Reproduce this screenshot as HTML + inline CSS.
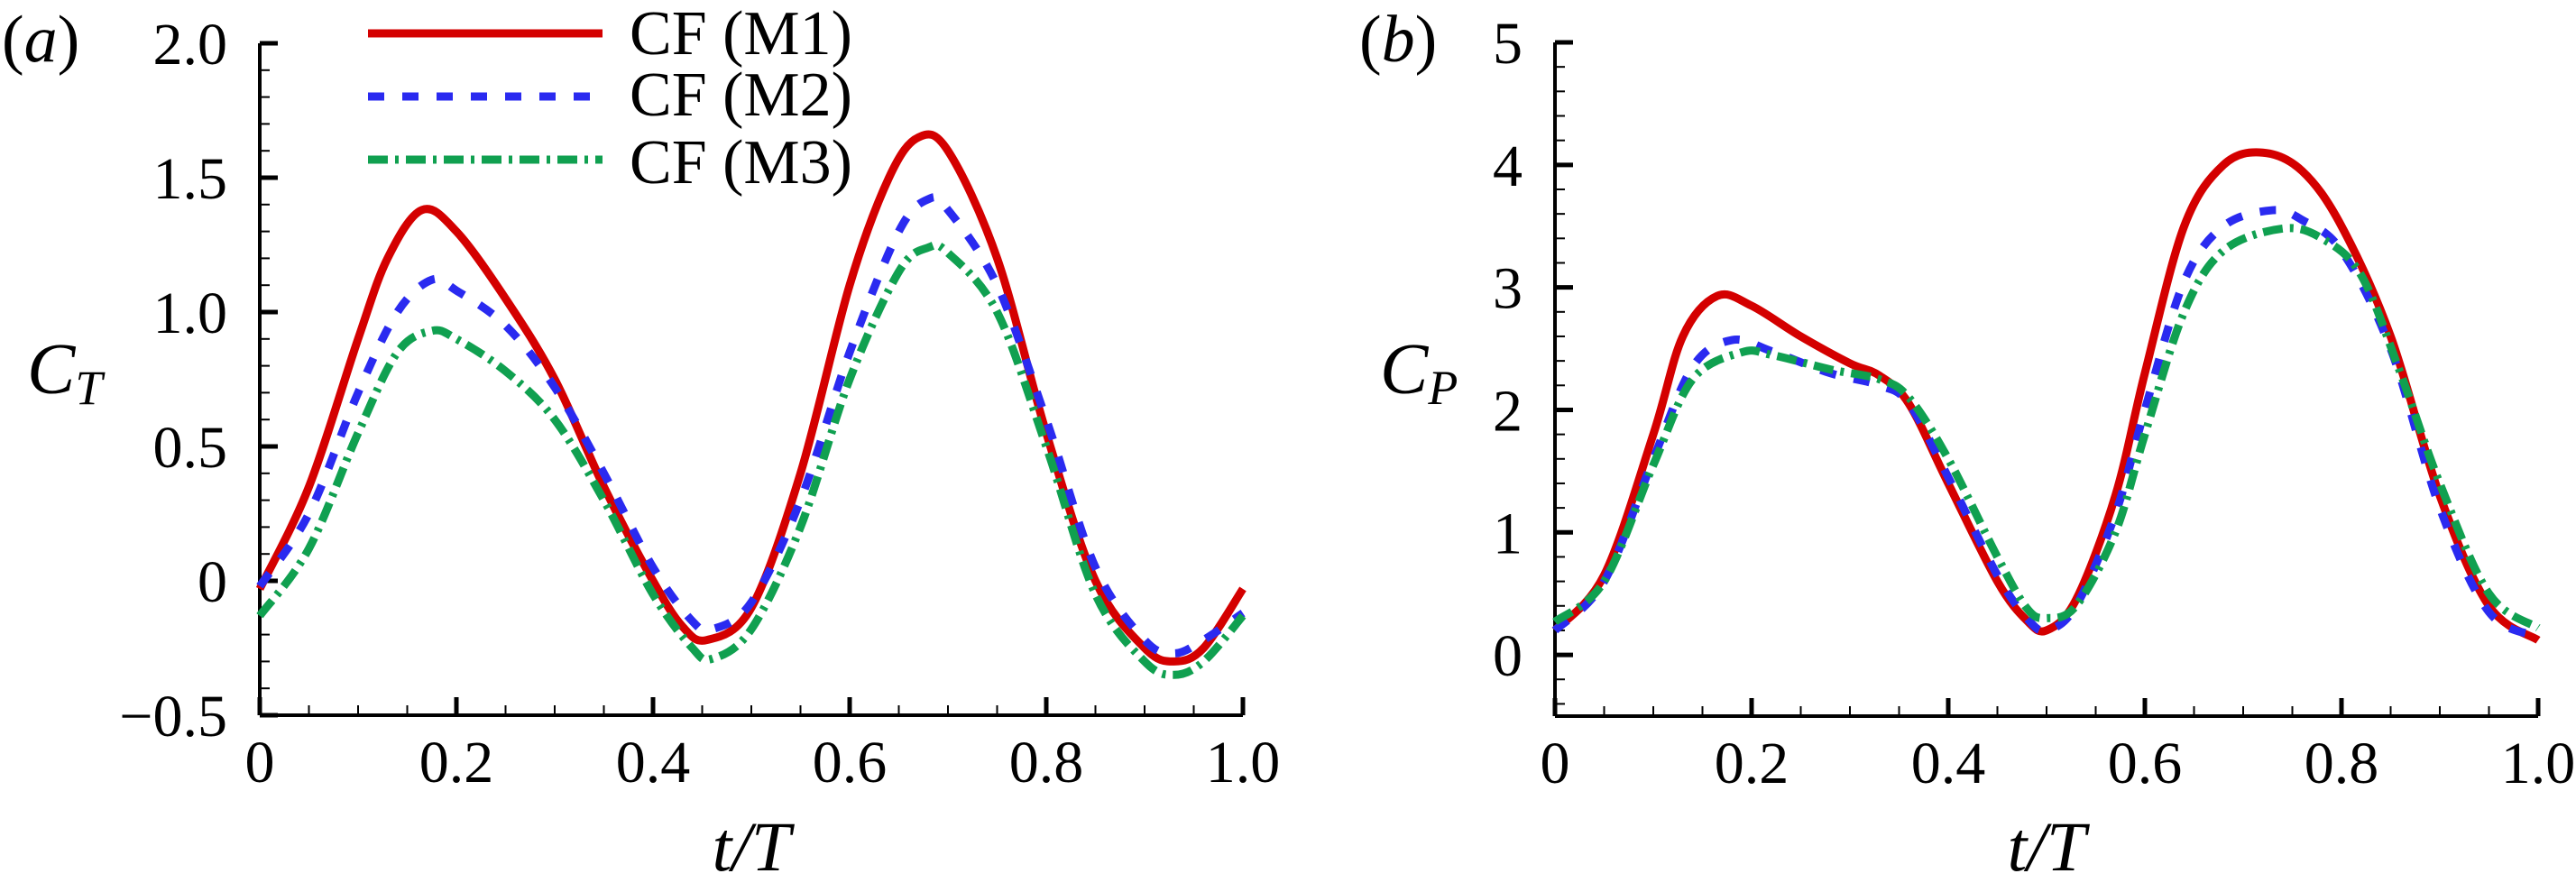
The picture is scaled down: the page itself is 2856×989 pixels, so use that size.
<!DOCTYPE html>
<html><head><meta charset="utf-8">
<style>
html,body{margin:0;padding:0;background:#fff;}
svg{display:block;}
svg text{font-family:"Liberation Serif","DejaVu Serif",serif;}
</style></head>
<body>
<svg id="fig" width="2856" height="989" viewBox="0 0 2856 989" xmlns="http://www.w3.org/2000/svg" font-family="Liberation Serif, serif">
<g id="pa"></g>
<g id="pb"></g>
<g>
  <line x1="408" y1="37" x2="668" y2="37" stroke="#d40000" stroke-width="9"/>
  <text x="698" y="60" font-size="70">CF (M1)</text>
  <line x1="408" y1="107" x2="668" y2="107" stroke="#2a2af0" stroke-width="9" stroke-dasharray="18,20"/>
  <text x="698" y="128" font-size="70">CF (M2)</text>
  <line x1="408" y1="177" x2="668" y2="177" stroke="#10a050" stroke-width="9" stroke-dasharray="22,8,4,8"/>
  <text x="698" y="203" font-size="70">CF (M3)</text>
</g>
</svg>
<script>
const tA = [0,0.05,0.1,0.13,0.165,0.2,0.25,0.3,0.35,0.4,0.43,0.455,0.5,0.55,0.6,0.64,0.67,0.7,0.75,0.8,0.85,0.9,0.93,0.96,1.0];
const ctM1 = [-0.03,0.35,0.9,1.2,1.38,1.3,1.05,0.75,0.35,0.0,-0.17,-0.22,-0.1,0.4,1.1,1.5,1.65,1.6,1.2,0.55,0.0,-0.25,-0.3,-0.25,-0.03];
const tA2 = [0,0.05,0.1,0.14,0.175,0.2,0.25,0.3,0.35,0.4,0.44,0.46,0.5,0.55,0.6,0.65,0.68,0.7,0.75,0.8,0.85,0.9,0.93,0.96,1.0];
const ctM2 = [-0.02,0.25,0.7,1.0,1.12,1.08,0.95,0.72,0.4,0.05,-0.15,-0.18,-0.08,0.3,0.85,1.3,1.42,1.38,1.1,0.6,0.05,-0.22,-0.27,-0.22,-0.12];
const ctM3 = [-0.13,0.12,0.55,0.85,0.93,0.9,0.78,0.6,0.3,-0.05,-0.25,-0.29,-0.18,0.2,0.75,1.15,1.24,1.22,1.0,0.5,-0.05,-0.3,-0.35,-0.3,-0.13];
const tB1 = [0,0.05,0.1,0.13,0.165,0.2,0.25,0.3,0.33,0.36,0.4,0.45,0.48,0.5,0.53,0.57,0.6,0.64,0.68,0.72,0.76,0.8,0.85,0.9,0.95,1.0];
const cpM1 = [0.2,0.65,1.8,2.6,2.93,2.85,2.6,2.38,2.28,2.05,1.4,0.6,0.28,0.2,0.45,1.3,2.3,3.5,4.0,4.1,3.95,3.5,2.6,1.3,0.4,0.12];
const tB2 = [0,0.05,0.1,0.14,0.18,0.22,0.28,0.33,0.36,0.4,0.45,0.48,0.5,0.53,0.57,0.6,0.64,0.68,0.73,0.76,0.8,0.85,0.9,0.95,1.0];
const cpM2 = [0.2,0.6,1.6,2.35,2.57,2.48,2.3,2.2,2.05,1.45,0.65,0.3,0.2,0.4,1.15,2.0,3.05,3.5,3.63,3.55,3.3,2.5,1.2,0.35,0.15];
const tB3 = [0,0.05,0.1,0.14,0.19,0.22,0.28,0.33,0.36,0.4,0.45,0.48,0.5,0.53,0.57,0.6,0.64,0.68,0.74,0.78,0.82,0.86,0.9,0.95,1.0];
const cpM3 = [0.27,0.6,1.55,2.25,2.47,2.45,2.33,2.25,2.1,1.6,0.8,0.38,0.3,0.4,1.0,1.8,2.8,3.3,3.48,3.4,3.1,2.3,1.4,0.5,0.22];
const xTicks = ["0","0.2","0.4","0.6","0.8","1.0"];
const yTicksA = ["\u22120.5","0","0.5","1.0","1.5","2.0"];
const yTicksB = ["0","1","2","3","4","5"];

const NS="http://www.w3.org/2000/svg";
function mk(parent,tag,attrs){const e=document.createElementNS(NS,tag);for(const k in attrs)e.setAttribute(k,attrs[k]);parent.appendChild(e);return e;}
function smooth(pts){let d=`M${pts[0][0]},${pts[0][1]}`;for(let i=0;i<pts.length-1;i++){const p0=pts[Math.max(0,i-1)],p1=pts[i],p2=pts[i+1],p3=pts[Math.min(pts.length-1,i+2)];
const c1=[p1[0]+(p2[0]-p0[0])/6,p1[1]+(p2[1]-p0[1])/6],c2=[p2[0]-(p3[0]-p1[0])/6,p2[1]-(p3[1]-p1[1])/6];d+=` C${c1[0]},${c1[1]} ${c2[0]},${c2[1]} ${p2[0]},${p2[1]}`;}return d;}

function panel(g,opt){
  const X=v=>opt.x0+(v)*(opt.x1-opt.x0);
  const Y=v=>opt.yb-(v-opt.ymin)/(opt.ymax-opt.ymin)*(opt.yb-opt.yt);
  let e;
  e=mk(g,'line',{x1:opt.x0,y1:opt.yt,x2:opt.x0,y2:opt.yb,stroke:'#000','stroke-width':4});
  
  
  e=mk(g,'line',{x1:opt.x0,y1:opt.yb,x2:opt.x1,y2:opt.yb,stroke:'#000','stroke-width':4});
  
  
  for(let i=0;i<=20;i++){const v=i*0.05,maj=i%4===0;
    e=mk(g,'line',{x1:X(v),y1:opt.yb,x2:X(v),y2:opt.yb-(maj?20:11),stroke:'#000','stroke-width':maj?5:2});
    
    }
  xTicks.forEach((s,i)=>{e=mk(g,'text',{x:X(i*0.2),y:opt.yb+74,'font-size':66,'text-anchor':'middle'});e.textContent=s;
    
    });
  const iStart=Math.ceil(opt.ymin/opt.minor-1e-6), iEnd=Math.floor(opt.ymax/opt.minor+1e-6);
  for(let i=iStart;i<=iEnd;i++){const v=i*opt.minor;const r=v/opt.major;const maj=Math.abs(r-Math.round(r))<1e-6;
    e=mk(g,'line',{x1:opt.x0,y1:Y(v),x2:opt.x0+(maj?20:11),y2:Y(v),stroke:'#000','stroke-width':maj?5:2});
    
    }
  opt.ylabels.forEach((s,i)=>{const v=opt.ystart+i*opt.major;e=mk(g,'text',{x:opt.x0-36,y:Y(v)+23,'font-size':66,'text-anchor':'end'});e.textContent=s;
    
    });
  opt.series.forEach(s=>{const pts=s.t.map((t,i)=>[X(t),Y(s.v[i])]);
    e=mk(g,'path',{d:smooth(pts),fill:'none',stroke:s.c,'stroke-width':9,'stroke-dasharray':s.dash||'none','stroke-linejoin':'round'});
    
    });
  e=mk(g,'text',{x:(opt.x0+opt.x1)/2,y:965,'font-size':78,'font-style':'italic','text-anchor':'middle'});e.textContent='t/T';
  
  
  e=mk(g,'text',{x:opt.lx,y:436,'font-size':80,'font-style':'italic'});
  e.innerHTML=opt.ylab+'<tspan font-size="54" dy="12">'+opt.sub+'</tspan>';
  
  
  e=mk(g,'text',{x:opt.px,y:68,'font-size':74});
  e.innerHTML='(<tspan font-style="italic">'+opt.plab+'</tspan>)';
  
  
}
panel(document.getElementById('pa'),{x0:288,x1:1378,yt:48,yb:793,ymin:-0.5,ymax:2.0,minor:0.1,major:0.5,ystart:-0.5,ylabels:yTicksA,lx:30,ylab:'C',sub:'T',px:2,plab:'a',
 series:[{t:tA,v:ctM1,c:'#d40000',name:'ct-m1-line'},{t:tA2,v:ctM2,c:'#2a2af0',dash:'18,20',name:'ct-m2-line'},{t:tA2,v:ctM3,c:'#10a050',dash:'22,8,4,8',name:'ct-m3-line'}]});
panel(document.getElementById('pb'),{x0:1724,x1:2814,yt:47,yb:794,ymin:-0.5,ymax:5,minor:0.2,major:1,ystart:0,ylabels:yTicksB,lx:1530,ylab:'C',sub:'P',px:1507,plab:'b',
 series:[{t:tB1,v:cpM1,c:'#d40000',name:'cp-m1-line'},{t:tB2,v:cpM2,c:'#2a2af0',dash:'18,20',name:'cp-m2-line'},{t:tB3,v:cpM3,c:'#10a050',dash:'22,8,4,8',name:'cp-m3-line'}]});
</script>
</body></html>
